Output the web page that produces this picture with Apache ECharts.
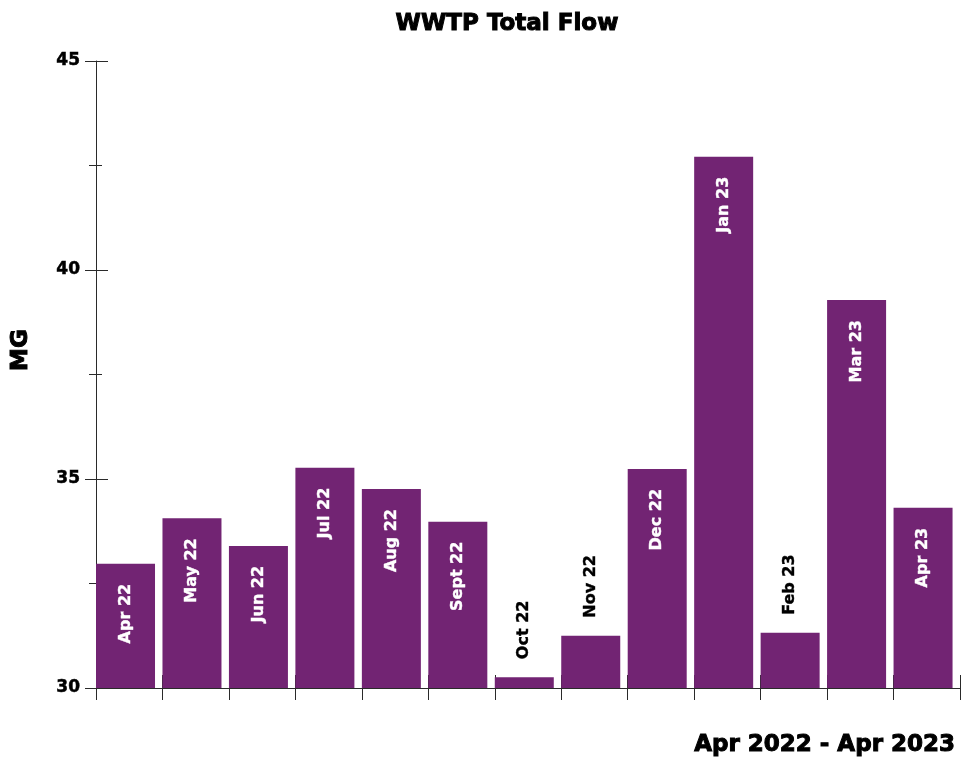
<!DOCTYPE html>
<html>
<head>
<meta charset="utf-8">
<script src="https://cdn.jsdelivr.net/npm/echarts@6/dist/echarts.min.js"></script>
<style>
html,body{margin:0;padding:0;background:#fff;}
#chart{width:973px;height:764px;}
</style>
</head>
<body>
<div id="chart"></div>
<script>
const categories = ['Apr 22','May 22','Jun 22','Jul 22','Aug 22','Sept 22','Oct 22','Nov 22','Dec 22','Jan 23','Feb 23','Mar 23','Apr 23'];
const flowMG = [32.97, 34.06, 33.40, 35.27, 34.76, 33.98, 30.26, 31.25, 35.24, 42.71, 31.32, 39.28, 34.31];
const yMin = 30, yMax = 45, yInterval = 5;
const titleText = 'WWTP Total Flow';
const yAxisTitle = 'MG';
const periodText = 'Apr 2022 - Apr 2023';

const FONT = '"DejaVu Sans", sans-serif';
const barColor = '#722473';
const axisColor = '#2a2a2a';

const barData = flowMG.map(v => {
  const inside = (v - yMin) >= 2;
  return {
    value: v,
    label: inside ? {
      show: true, formatter: '{b}', position: 'insideTop', rotate: 90, align: 'right', verticalAlign: 'middle',
      distance: 20, color: '#fff', fontFamily: FONT, fontWeight: 'bold', fontSize: 16,
      textBorderColor: '#fff', textBorderWidth: 0.4
    } : {
      show: true, formatter: '{b}', position: 'top', rotate: 90, align: 'left', verticalAlign: 'middle',
      distance: 18, color: '#000', fontFamily: FONT, fontWeight: 'bold', fontSize: 16,
      textBorderColor: '#000', textBorderWidth: 0.4
    },
    itemStyle: { color: barColor }
  };
});

const chart = echarts.init(document.getElementById('chart'), null, { renderer: 'canvas' });
chart.setOption({
  animation: false,
  backgroundColor: '#fff',
  title: {
    text: titleText, left: 502, top: 8, textAlign: 'center',
    textStyle: { fontFamily: FONT, fontWeight: 'bold', fontSize: 23, color: '#000',
      textBorderColor: '#000', textBorderWidth: 1 }
  },
  grid: { left: 96, right: 13, top: 61, bottom: 76, containLabel: false },
  xAxis: [{
    type: 'category', data: categories, boundaryGap: true,
    axisLine: { show: true, lineStyle: { color: axisColor, width: 1 } },
    axisTick: { show: true, length: 12, lineStyle: { color: axisColor } },
    axisLabel: { show: false }, splitLine: { show: false }
  }, {
    type: 'category', data: categories, boundaryGap: true, position: 'bottom', offset: 0,
    axisLine: { show: false },
    axisTick: { show: true, inside: true, length: 13, lineStyle: { color: axisColor } },
    axisLabel: { show: false }, splitLine: { show: false }
  }],
  yAxis: [{
    type: 'value', min: yMin, max: yMax, interval: yInterval, position: 'left', offset: 0,
    axisLine: { show: true, lineStyle: { color: axisColor, width: 1 } },
    axisTick: { show: true, length: 11, lineStyle: { color: axisColor } },
    minorTick: { show: true, splitNumber: 2, length: 7, lineStyle: { color: axisColor } },
    axisLabel: { show: true, margin: 16, color: '#000', fontFamily: FONT, fontWeight: 'bold', fontSize: 17,
      textBorderColor: '#000', textBorderWidth: 0.5 },
    splitLine: { show: false }, minorSplitLine: { show: false }
  }, {
    type: 'value', min: yMin, max: yMax, interval: yInterval, position: 'left', offset: 0,
    axisLine: { show: false },
    axisTick: { show: true, inside: true, length: 12, lineStyle: { color: axisColor } },
    minorTick: { show: true, splitNumber: 2, length: 6, lineStyle: { color: axisColor } },
    axisLabel: { show: false },
    splitLine: { show: false }, minorSplitLine: { show: false }
  }],
  series: [{
    type: 'bar', name: 'Flow', xAxisIndex: 0, yAxisIndex: 0,
    data: barData, barWidth: 59, barGap: '-87.4%',
    itemStyle: { color: barColor }
  }, {
    type: 'bar', name: 'spacer', xAxisIndex: 0, yAxisIndex: 0,
    data: [], barWidth: 59, silent: true
  }],
  graphic: [{
    type: 'text', x: 21, y: 350, rotation: Math.PI / 2,
    style: { text: yAxisTitle, textAlign: 'center', textVerticalAlign: 'middle',
      font: 'bold 23px ' + FONT, fill: '#000', stroke: '#000', lineWidth: 1 }
  }, {
    type: 'text', x: 955, y: 745,
    style: { text: periodText, textAlign: 'right', textVerticalAlign: 'middle',
      font: 'bold 23px ' + FONT, fill: '#000', stroke: '#000', lineWidth: 1 }
  }]
});
</script>
</body>
</html>
